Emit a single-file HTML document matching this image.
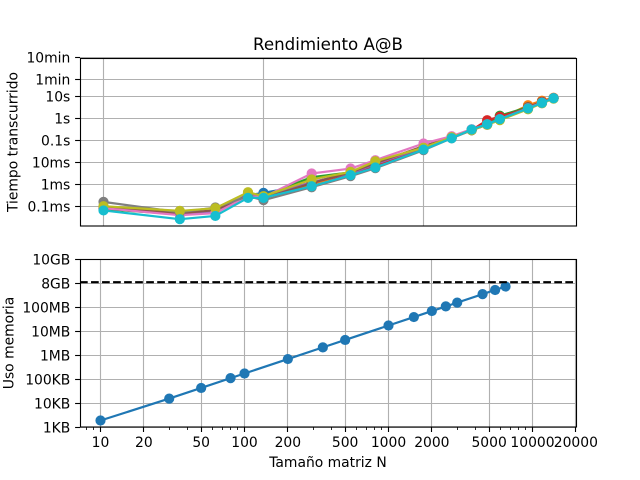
<!DOCTYPE html>
<html lang="es">
<head>
<meta charset="utf-8">
<title>Rendimiento A@B</title>
<style>
html,body{margin:0;padding:0;background:#fff;}
svg{display:block;}
text{font-family:"DejaVu Sans","Liberation Sans",sans-serif;font-size:13.89px;fill:#000;}
</style>
</head>
<body>
<svg id="fig" xmlns="http://www.w3.org/2000/svg" width="640" height="480" viewBox="0 0 640 480">
<rect x="0" y="0" width="640" height="480" fill="#fff"/>
<g id="top-grid"></g>
<g id="bot-grid"></g>
<g id="top-series"></g>
<g id="bot-series"></g>
<g id="ticks"></g>
<rect x="80.5" y="58.5" width="496" height="167.5" fill="none" stroke="#000" stroke-width="1.11"/>
<rect x="80.5" y="259.5" width="496" height="167.5" fill="none" stroke="#000" stroke-width="1.11"/>
<text x="328" y="50" text-anchor="middle" style="font-size:16.67px">Rendimiento A@B</text>
<text x="328" y="467" text-anchor="middle">Tamaño matriz N</text>
<text transform="translate(17.5,142) rotate(-90)" text-anchor="middle">Tiempo transcurrido</text>
<text transform="translate(13.5,343) rotate(-90)" text-anchor="middle">Uso memoria</text>
</svg>
<script>
// Matrix sizes shared by both panels
const sizes = [10, 30, 50, 80, 100, 200, 350, 500, 1000, 1500, 2000, 2500, 3000, 4500, 5500, 6500];

// Elapsed time in seconds, one array per run
const timeBlue   = [8.1e-5, 4.3e-5, 5.9e-5, 3.17e-4, 4.04e-4, 1.0e-3, 3.2e-3, 7.4e-3, 0.0488, 0.139, 0.306, 0.545, 0.92, 2.92, 5.19, 8.3];
const timeOrange = [8.1e-5, 4.8e-5, 5.9e-5, 3.17e-4, 2.86e-4, 1.0e-3, 3.2e-3, 7.4e-3, 0.0488, 0.139, 0.306, 0.545, 0.97, 3.99, 6.4, 8.77];
const timeGreen  = [7.3e-5, 4.3e-5, 5.3e-5, 3.17e-4, 2.86e-4, 2.1e-3, 3.5e-3, 8.2e-3, 0.0488, 0.139, 0.306, 0.637, 1.33, 3.24, 5.47, 8.3];
const timeRed    = [8.1e-5, 4.3e-5, 6.2e-5, 2.86e-4, 2.57e-4, 1.24e-3, 2.9e-3, 7.4e-3, 0.0439, 0.132, 0.29, 0.83, 1.19, 2.92, 5.19, 8.3];
const timePurple = [8.1e-5, 4.8e-5, 5.3e-5, 3.5e-4, 2.57e-4, 1.24e-3, 3.2e-3, 8.2e-3, 0.0488, 0.139, 0.29, 0.516, 0.92, 2.92, 5.19, 8.3];
const timeBrown  = [9.0e-5, 4.8e-5, 6.6e-5, 3.17e-4, 2.31e-4, 1.12e-3, 3.5e-3, 9.1e-3, 0.0541, 0.139, 0.29, 0.545, 0.92, 3.24, 5.77, 8.3];
const timePink   = [8.1e-5, 3.9e-5, 4.8e-5, 2.86e-4, 2.57e-4, 3.09e-3, 5.2e-3, 0.0125, 0.0719, 0.155, 0.322, 0.545, 0.92, 2.92, 5.19, 8.3];
const timeGray   = [1.57e-4, 5.3e-5, 8.7e-5, 2.86e-4, 1.88e-4, 7.3e-4, 2.33e-3, 5.4e-3, 0.0356, 0.125, 0.29, 0.516, 0.92, 2.77, 4.92, 8.3];
const timeOlive  = [1.0e-4, 6.1e-5, 8.1e-5, 4.35e-4, 2.86e-4, 1.65e-3, 3.65e-3, 0.0112, 0.0463, 0.139, 0.29, 0.516, 0.83, 2.62, 4.92, 7.9];
const timeCyan   = [6.4e-5, 2.56e-5, 3.6e-5, 2.4e-4, 2.4e-4, 8.1e-4, 2.6e-3, 5.8e-3, 0.038, 0.125, 0.312, 0.545, 0.92, 2.82, 5.08, 8.3];
const timeRuns = [timeBlue, timeOrange, timeGreen, timeRed, timePurple, timeBrown, timePink, timeGray, timeOlive, timeCyan];
const runNames = ['blue', 'orange', 'green', 'red', 'purple', 'brown', 'pink', 'gray', 'olive', 'cyan'];
const runColors = ['#1f77b4', '#ff7f0e', '#2ca02c', '#d62728', '#9467bd', '#8c564b', '#e377c2', '#7f7f7f', '#bcbd22', '#17becf'];

// Memory used in KB
const memoryKb = [1.94, 15.84, 44, 113, 176, 704, 2156, 4400, 17600, 39600, 70400, 110000, 158400, 356400, 532400, 743600];
const memoryLimitKb = 1120000;

// Tick values and labels
const timeTickValues = [600, 60, 10, 1, 0.1, 0.01, 0.001, 0.0001];
const timeTickLabels = ['10min', '1min', '10s', '1s', '0.1s', '10ms', '1ms', '0.1ms'];
const memTickValues = [1e7, 1e6, 1e5, 1e4, 1e3, 100, 10, 1];
const memTickLabels = ['10GB', '8GB', '100MB', '10MB', '1MB', '100KB', '10KB', '1KB'];
const topGridSizes = [10, 100, 1000];
const xTickValues = [10, 20, 50, 100, 200, 500, 1000, 2000, 5000, 10000, 20000];
const xTickLabels = ['10', '20', '50', '100', '200', '500', '1000', '2000', '5000', '10000', '20000'];
const xMinorValues = [8, 9, 30, 40, 60, 70, 80, 90, 300, 400, 600, 700, 800, 900, 3000, 4000, 6000, 7000, 8000, 9000];

// Axis functions
function xTop(n) { return 103.5 + 160 * (Math.log10(n) - 1); }
function xBot(n) { return 100.5 + 144 * (Math.log10(n) - 1); }
function yTop(s) { return 118.4 - 21.95 * Math.log10(s); }
function yMem(kb) { return 427.4 - 24 * Math.log10(kb); }
function snap(v) { return Math.floor(v) + 0.5; }

const NS = 'http://www.w3.org/2000/svg';
function make(parent, tag, props) {
  const el = document.createElementNS(NS, tag);
  for (const k in props) el.setAttribute(k, props[k]);
  parent.appendChild(el);
  return el;
}
const topGrid = document.getElementById('top-grid');
const botGrid = document.getElementById('bot-grid');
const topSeries = document.getElementById('top-series');
const botSeries = document.getElementById('bot-series');
const ticks = document.getElementById('ticks');
const gridStyle = { stroke: '#b0b0b0', 'stroke-width': 1.11 };

// Top panel grid and ticks
topGridSizes.forEach(function (n) {
  const x = snap(xTop(n));
  const el = make(topGrid, 'line', Object.assign({ x1: x, x2: x, y1: 58, y2: 226 }, gridStyle));
  
  
});
timeTickValues.forEach(function (v, i) {
  const y = snap(yTop(v));
  const g = make(topGrid, 'line', Object.assign({ x1: 80, x2: 576, y1: y, y2: y }, gridStyle));
  
  
  const t = make(ticks, 'line', { x1: 75.1, x2: 80, y1: y, y2: y, stroke: '#000', 'stroke-width': 1.11 });
  
  
  const l = make(ticks, 'text', { x: 70.3, y: yTop(v) + 5.2, 'text-anchor': 'end' });
  l.textContent = timeTickLabels[i];
  
  
});

// Bottom panel grid and ticks
xTickValues.forEach(function (n, i) {
  const x = snap(xBot(n));
  const g = make(botGrid, 'line', Object.assign({ x1: x, x2: x, y1: 259, y2: 427 }, gridStyle));
  
  
  const t = make(ticks, 'line', { x1: x, x2: x, y1: 427, y2: 432, stroke: '#000', 'stroke-width': 1.11 });
  
  
  const l = make(ticks, 'text', { x: xBot(n), y: 447.2, 'text-anchor': 'middle' });
  l.textContent = xTickLabels[i];
  
  
});
xMinorValues.forEach(function (n) {
  const x = snap(xBot(n));
  const t = make(ticks, 'line', { x1: x, x2: x, y1: 427, y2: 430, stroke: '#000', 'stroke-width': 0.83 });
  
  
});
memTickValues.forEach(function (v, i) {
  const y = snap(yMem(v));
  const g = make(botGrid, 'line', Object.assign({ x1: 80, x2: 576, y1: y, y2: y }, gridStyle));
  
  
  const t = make(ticks, 'line', { x1: 75.1, x2: 80, y1: y, y2: y, stroke: '#000', 'stroke-width': 1.11 });
  
  
  const l = make(ticks, 'text', { x: 70.3, y: yMem(v) + 5.2, 'text-anchor': 'end' });
  l.textContent = memTickLabels[i];
  
  
});

// Time series
timeRuns.forEach(function (run, r) {
  const g = make(topSeries, 'g', {});
  
  
  const pts = run.map(function (v, i) { return xTop(sizes[i]).toFixed(2) + ',' + yTop(v).toFixed(2); }).join(' ');
  const line = make(g, 'polyline', { points: pts, fill: 'none', stroke: runColors[r], 'stroke-width': 2.2, 'stroke-linejoin': 'round' });
  
  
  run.forEach(function (v, i) {
    const c = make(g, 'circle', { cx: xTop(sizes[i]), cy: yTop(v), r: 5.1, fill: runColors[r] });
    
    
  });
});

// Memory series
const memPts = memoryKb.map(function (v, i) { return xBot(sizes[i]).toFixed(2) + ',' + yMem(v).toFixed(2); }).join(' ');
const memLine = make(botSeries, 'polyline', { points: memPts, fill: 'none', stroke: '#1f77b4', 'stroke-width': 2.2, 'stroke-linejoin': 'round' });


memoryKb.forEach(function (v, i) {
  const c = make(botSeries, 'circle', { cx: xBot(sizes[i]), cy: yMem(v), r: 5.1, fill: '#1f77b4' });
  
  
});
const limitY = yMem(memoryLimitKb);
const limit = make(botSeries, 'line', { x1: 80, x2: 576, y1: limitY, y2: limitY, stroke: '#000', 'stroke-width': 2.08, 'stroke-dasharray': '7.7 3.33' });


</script>
</body>
</html>
